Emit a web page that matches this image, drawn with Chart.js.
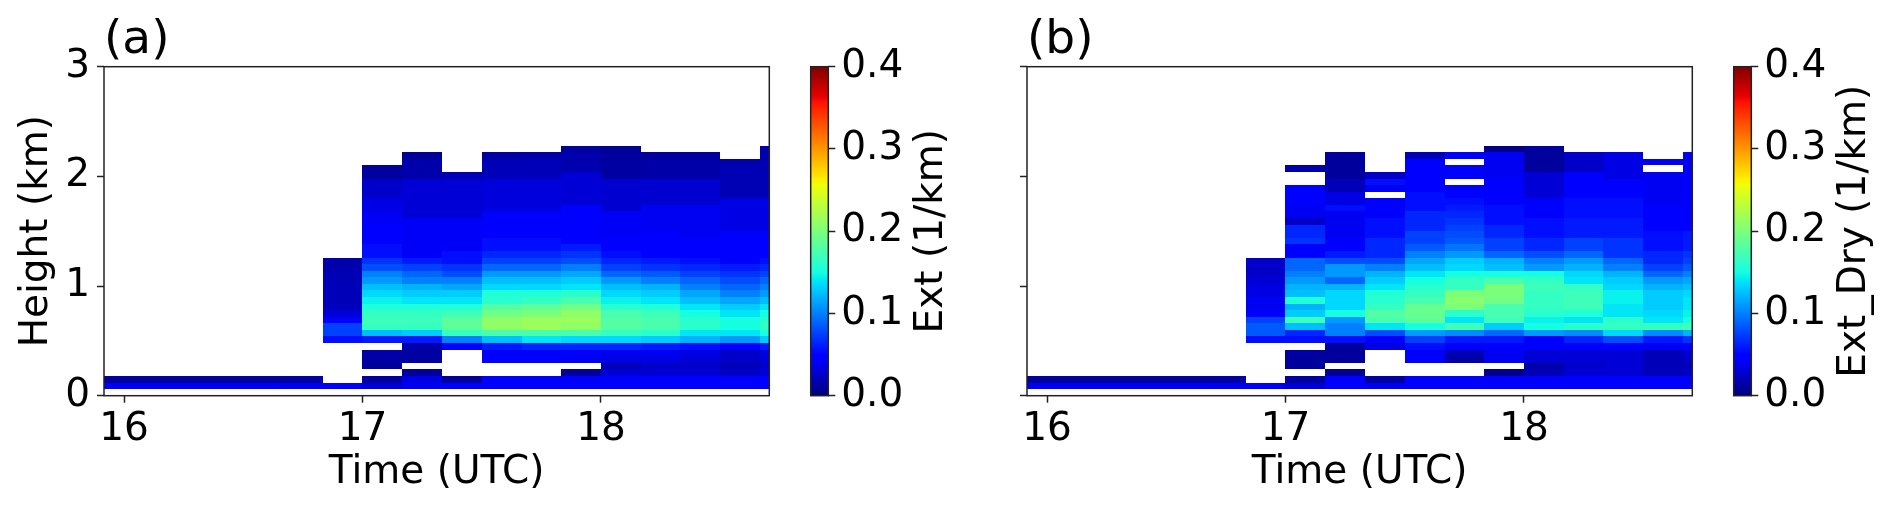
<!DOCTYPE html>
<html>
<head>
<meta charset="utf-8">
<script src="https://cdn.jsdelivr.net/npm/chart.js@4.4.1/dist/chart.umd.min.js"></script>
<style>
  body { margin: 0; background: #fff; width: 1892px; height: 510px; overflow: hidden; position: relative; }
  canvas { position: absolute; top: 0; }
</style>
</head>
<body>
<canvas id="mainA" width="800" height="510" style="left:0px"></canvas>
<canvas id="cbarA" width="200" height="510" style="left:790px"></canvas>
<canvas id="mainB" width="800" height="510" style="left:923px"></canvas>
<canvas id="cbarB" width="179" height="510" style="left:1713px"></canvas>
<script>
const _ = null;

// time of column edges (UTC hours), 10 min steps
const timeEdges = [15.833, 16.0, 16.167, 16.333, 16.5, 16.667, 16.833, 17.0, 17.167, 17.333,
                   17.5, 17.667, 17.833, 18.0, 18.167, 18.333, 18.5, 18.667, 18.833];
const binKm = 0.06;              // vertical bin size, profile index k -> [k*binKm, (k+1)*binKm]
const xTicks = [16, 17, 18];
const yTicks = [0, 1, 2, 3];
const cbarTicks = [0, 0.1, 0.2, 0.3, 0.4];
const vmax = 0.4;

// Ext (1/km), one profile per time column, from the ground up
const extProfiles = [
  [_, .042, .010], [_, .042, .010], [_, .042, .010], [_, .042, .010], [_, .042, .010], [_, .040, .012],
  [_, .045, _, _, _, _, _, _, .055, .075, .075, .045, .030, .022, .020, .020, .020, .018, .018, .016, .015],
  [_, .030, .012, _, .010, .012, .015, _, .060, .125, .165, .170, .165, .155, .145, .135, .125, .110, .100, .080,
   .070, .055, .055, .047, .047, .045, .042, .042, .035, .035, .026, .026, .026, .011, .010],
  [_, .040, .035, .010, _, .012, .012, .015, .060, .130, .165, .170, .165, .155, .140, .130, .120, .100, .090, .075,
   .060, .042, .042, .042, .042, .042, .042, .030, .030, .030, .030, .030, .030, .015, .015, .015, .008],
  [_, .045, .010, _, _, _, _, .050, .100, .165, .185, .185, .170, .155, .140, .130, .115, .100, .080, .070,
   .055, .055, .042, .042, .042, .042, .042, .030, .030, .030, .030, .030, .030, .018],
  [_, .045, .045, _, _, .045, .045, .060, .125, .175, .210, .210, .195, .180, .160, .155, .135, .125, .110, .090,
   .075, .065, .055, .055, .045, .045, .045, .045, .032, .032, .032, .032, .032, .020, .020, .020, .012],
  [_, .045, .045, _, _, .045, .045, .065, .140, .175, .215, .215, .200, .185, .165, .155, .135, .125, .110, .090,
   .075, .065, .055, .055, .045, .045, .045, .045, .032, .032, .032, .032, .032, .020, .020, .020, .014],
  [_, .045, .045, .010, _, .040, .045, .065, .135, .175, .210, .215, .210, .195, .175, .160, .140, .130, .115, .100,
   .080, .070, .060, .050, .050, .045, .045, .045, .045, .030, .030, .030, .030, .030, .016, .016, .016, .010],
  [_, .045, .045, .030, .020, .035, .040, .065, .135, .165, .180, .180, .175, .160, .145, .135, .125, .110, .090, .075,
   .065, .055, .045, .045, .042, .042, .042, .042, .028, .028, .028, .028, .028, .012, .012, .012, .010, .008],
  [_, .045, .045, .030, .025, .035, .040, .060, .130, .160, .175, .175, .170, .155, .140, .130, .120, .100, .085, .070,
   .060, .050, .045, .045, .045, .040, .040, .040, .040, .028, .028, .028, .028, .014, .014, .014, .010],
  [_, .045, .045, .030, .025, .030, .035, .055, .120, .140, .160, .160, .150, .140, .125, .115, .100, .090, .075, .065,
   .055, .045, .045, .045, .040, .040, .040, .040, .040, .028, .028, .028, .028, .014, .014, .014, .010],
  [_, .045, .045, .025, .020, .025, .025, .050, .110, .140, .150, .150, .140, .130, .115, .100, .090, .080, .070, .060,
   .050, .045, .045, .045, .045, .035, .035, .035, .035, .035, .018, .018, .018, .018, .018, .014],
  [_, .045, .045, .030, .025, .030, .035, .060, .130, .150, .165, .160, .150, .140, .125, .110, .100, .090, .075, .065,
   .055, .045, .045, .045, .045, .035, .035, .035, .035, .035, .018, .018, .018, .018, .018, .018, .016, .014]
];

// Ext_Dry (1/km)
const extDryProfiles = [
  [_, .042, .010], [_, .042, .010], [_, .042, .010], [_, .042, .010], [_, .042, .010], [_, .040, .012],
  [_, .045, _, _, _, _, _, _, .055, .085, .085, .075, .050, .040, .040, .035, .035, .030, .025, .025, .025],
  [_, .030, .012, _, .010, .010, .012, _, .055, .065, .125, .170, .130, .120, .155, .125, .120, .110, .100, .090,
   .090, .050, .045, .070, .065, .065, .025, .040, .040, .045, .045, .045, _, _, .015],
  [_, .045, .045, .008, _, .010, .010, .010, .055, .100, .100, .110, .150, .135, .135, .135, .120, .090, .110, .110,
   .080, .060, .050, .045, .040, .040, .040, .040, .055, .035, .035, .020, .020, .010, .010, .010, .010],
  [_, .040, .012, _, _, _, _, .035, .050, .080, .140, .175, .180, .165, .160, .155, .140, .130, .120, .100,
   .080, .065, .065, .065, .055, .055, .055, .045, .045, .045, _, .040, .055, .025],
  [_, .045, .045, _, _, .045, .045, .055, .075, .110, .150, .185, .190, .190, .175, .165, .160, .150, .140, .125,
   .115, .100, .085, .075, .075, .065, .065, .065, .055, .055, .055, .045, .045, .045, .045, .045, .020],
  [_, .045, .045, _, _, .015, .020, .045, .060, .105, .170, .140, .160, .200, .205, .200, .165, .165, .150, .135,
   .130, .110, .095, .085, .080, .075, .070, .065, .060, .055, .050, .045, _, .045, .045, _, .045],
  [_, .050, .050, .005, _, .040, .040, .045, .060, .090, .130, .170, .175, .175, .195, .200, .200, .175, .150, .125,
   .120, .090, .075, .075, .065, .065, .055, .055, .055, .045, .045, .045, .045, .040, .040, .040, .040, .003],
  [_, .050, .050, .020, .015, .030, .030, .045, .050, .110, .150, .145, .160, .165, .165, .165, .170, .165, .150, .110,
   .100, .080, .065, .065, .055, .055, .055, .045, .045, .045, .030, .030, .030, .030, .010, .010, .010, .010],
  [_, .050, .050, .030, .025, .030, .030, .050, .065, .105, .160, .140, .155, .170, .170, .170, .165, .140, .135, .120,
   .110, .090, .075, .075, .060, .060, .060, .055, .055, .055, .045, .045, .045, .045, .025, .025, .025],
  [_, .050, .050, .030, .030, .030, .030, .050, .080, .135, .165, .160, .140, .140, .145, .145, .135, .130, .120, .100,
   .090, .070, .070, .070, .060, .060, .060, .055, .055, .055, .045, .045, .045, .035, .035, .035, .035],
  [_, .045, .045, .020, .020, .020, .020, .040, .060, .105, .165, .140, .135, .130, .130, .130, .120, .110, .090, .075,
   .065, .065, .055, .055, .055, .045, .045, .045, .045, .040, .040, .040, .040, .040, _, .040],
  [_, .045, .045, .025, .020, .025, .030, .045, .070, .120, .170, .150, .145, .140, .140, .135, .125, .115, .100, .085,
   .075, .070, .060, .060, .060, .050, .050, .050, .050, .045, .045, .045, .045, .045, .040, .040, .040]
];

const FONT = 'DejaVu Sans';
const INK = '#222';

// matplotlib "jet" colormap
function jet(t) {
  t = Math.min(1, Math.max(0, t));
  const seg = pts => {
    for (let i = 1; i < pts.length; i++) {
      if (t <= pts[i][0]) {
        const [a, va] = pts[i - 1], [b, vb] = pts[i];
        return va + (vb - va) * (t - a) / (b - a);
      }
    }
    return pts[pts.length - 1][1];
  };
  const r = seg([[0, 0], [0.35, 0], [0.66, 1], [0.89, 1], [1, 0.5]]);
  const g = seg([[0, 0], [0.125, 0], [0.375, 1], [0.64, 1], [0.91, 0], [1, 0]]);
  const b = seg([[0, 0.5], [0.11, 1], [0.34, 1], [0.65, 0], [1, 0]]);
  return `rgb(${Math.round(r * 255)},${Math.round(g * 255)},${Math.round(b * 255)})`;
}

// frame around the plot area
const framePlugin = {
  id: 'frame',
  afterDatasetsDraw(chart) {
    const a = chart.chartArea, ctx = chart.ctx;
    ctx.save();
    ctx.strokeStyle = INK;
    ctx.lineWidth = 1.5;
    ctx.strokeRect(a.left, a.top, a.right - a.left, a.bottom - a.top);
    ctx.restore();
  }
};

// pcolormesh-like cells
function heatPlugin(profiles) {
  return {
    id: 'heat',
    beforeDatasetsDraw(chart) {
      const { ctx, chartArea: a, scales: { x, y } } = chart;
      ctx.save();
      ctx.beginPath();
      ctx.rect(a.left, a.top, a.right - a.left, a.bottom - a.top);
      ctx.clip();
      profiles.forEach((col, i) => {
        const x0 = Math.round(x.getPixelForValue(timeEdges[i]));
        const x1 = Math.round(x.getPixelForValue(timeEdges[i + 1]));
        col.forEach((v, k) => {
          if (v === null) return;
          const yb = Math.round(y.getPixelForValue(k * binKm));
          const yt = Math.round(y.getPixelForValue((k + 1) * binKm));
          ctx.fillStyle = jet(v / vmax);
          ctx.fillRect(x0, yt, x1 - x0, yb - yt);
        });
      });
      ctx.restore();
    }
  };
}

function mainChart(id, profiles, title, showY) {
  return new Chart(document.getElementById(id), {
    type: 'scatter',
    data: { datasets: [{ data: [], pointRadius: 0 }] },
    options: {
      responsive: false,
      animation: false,
      devicePixelRatio: 1,
      layout: { padding: { left: 0, right: 30.7, top: 0, bottom: 0 } },
      plugins: {
        legend: { display: false },
        tooltip: { enabled: false },
        title: {
          display: true, text: title, align: 'start', fullSize: false, color: '#000',
          font: { family: FONT, size: 47, weight: 'normal', lineHeight: 1 },
          padding: { top: 17.5, bottom: 2.2 }
        }
      },
      scales: {
        x: {
          type: 'linear', min: 15.916, max: 18.706,
          afterBuildTicks: s => { s.ticks = xTicks.map(v => ({ value: v })); },
          afterFit: s => { s.height = 114.3; },
          grid: { drawOnChartArea: false, drawTicks: true, tickLength: 7, tickColor: INK, tickWidth: 1.5 },
          border: { display: false },
          ticks: { color: '#000', font: { family: FONT, size: 39 }, padding: 4, maxRotation: 0, autoSkip: false },
          title: { display: true, text: 'Time (UTC)', color: '#000', font: { family: FONT, size: 39 },
                   padding: { top: 0, bottom: 13.4 } }
        },
        y: {
          type: 'linear', min: 0, max: 3,
          afterBuildTicks: s => { s.ticks = yTicks.map(v => ({ value: v })); },
          afterFit: s => { s.width = 104; },
          grid: { drawOnChartArea: false, drawTicks: true, tickLength: 7, tickColor: INK, tickWidth: 1.5 },
          border: { display: false },
          ticks: { color: '#000', font: { family: FONT, size: 39 }, padding: 7,
                   callback: v => showY ? String(v) : '' },
          title: { display: showY, text: 'Height (km)', color: '#000', font: { family: FONT, size: 39 },
                   padding: { top: 13.1, bottom: 0 } }
        }
      }
    },
    plugins: [heatPlugin(profiles), framePlugin]
  });
}

function colorbar(id, label, labelX) {
  const barPlugin = {
    id: 'bar',
    beforeDatasetsDraw(chart) {
      const { ctx, chartArea: a, scales: { y } } = chart;
      for (let py = Math.floor(a.top); py < a.bottom; py++) {
        ctx.fillStyle = jet(y.getValueForPixel(py + 0.5) / vmax);
        ctx.fillRect(a.left, py, a.right - a.left, 1);
      }
    },
    afterDraw(chart) {
      const { ctx, chartArea: a } = chart;
      ctx.save();
      ctx.translate(labelX, (a.top + a.bottom) / 2);
      ctx.rotate(-Math.PI / 2);
      ctx.font = `39px "${FONT}"`;
      ctx.fillStyle = '#000';
      ctx.textAlign = 'center';
      ctx.textBaseline = 'alphabetic';
      ctx.fillText(label, 0, 0);
      ctx.restore();
    }
  };
  return new Chart(document.getElementById(id), {
    type: 'scatter',
    data: { datasets: [{ data: [], pointRadius: 0 }] },
    options: {
      responsive: false,
      animation: false,
      devicePixelRatio: 1,
      layout: { padding: { left: 20.7, right: 0, top: 66.7, bottom: 114.3 } },
      plugins: { legend: { display: false }, tooltip: { enabled: false } },
      scales: {
        x: { display: false, min: 0, max: 1 },
        y: {
          position: 'right', min: 0, max: vmax,
          afterBuildTicks: s => { s.ticks = cbarTicks.map(v => ({ value: v })); },
          afterFit: s => { s.width = chart_w(id) - 38.3; },
          grid: { drawOnChartArea: false, drawTicks: true, tickLength: 7, tickColor: INK, tickWidth: 1.5 },
          border: { display: false },
          ticks: { color: '#000', font: { family: FONT, size: 39 }, padding: 6, callback: v => v.toFixed(1) }
        }
      }
    },
    plugins: [barPlugin, framePlugin]
  });
}

function chart_w(id) { return document.getElementById(id).width; }

mainChart('mainA', extProfiles, '(a)', true);
colorbar('cbarA', 'Ext (1/km)', 152);
mainChart('mainB', extDryProfiles, '(b)', false);
colorbar('cbarB', 'Ext_Dry (1/km)', 152.3);
</script>
</body>
</html>
